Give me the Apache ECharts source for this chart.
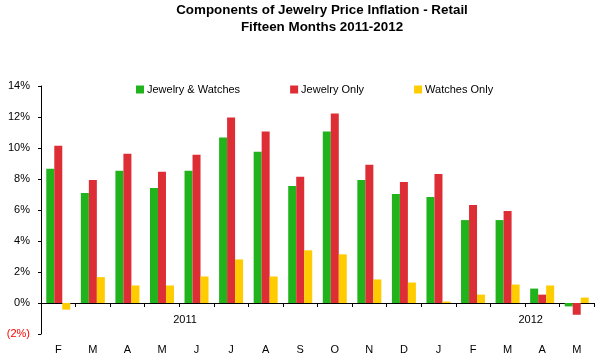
<!DOCTYPE html>
<html><head><meta charset="utf-8">
<script src="https://cdn.jsdelivr.net/npm/echarts@6/dist/echarts.min.js"></script>
<style>html,body{margin:0;padding:0;background:#fff}#c{width:599px;height:358px}</style>
</head><body><div id="c"></div>
<script>
const months = ['F','M','A','M','J','J','A','S','O','N','D','J','F','M','A','M'];
const jewelryWatches = [8.66, 7.10, 8.53, 7.42, 8.53, 10.67, 9.76, 7.55, 11.06, 7.94, 7.03, 6.84, 5.35, 5.35, 0.93, -0.22];
const jewelryOnly    = [10.15, 7.94, 9.63, 8.46, 9.57, 11.97, 11.06, 8.14, 12.23, 8.92, 7.81, 8.33, 6.32, 5.93, 0.54, -0.76];
const watchesOnly    = [-0.43, 1.67, 1.13, 1.13, 1.71, 2.81, 1.71, 3.40, 3.14, 1.52, 1.32, 0.09, 0.54, 1.19, 1.13, 0.35];
const yearLabels = {12: '2011', 42: '2012'};
const yearSlots = Array.from({length: months.length * 3}, (_, i) => yearLabels[i] || '');
const font = 'Arial, "Liberation Sans", sans-serif';

const chart = echarts.init(document.getElementById('c'), null, {renderer: 'canvas'});
chart.setOption({
  animation: false,
  backgroundColor: '#fff',
  title: {
    text: 'Components of Jewelry Price Inflation - Retail\nFifteen Months 2011-2012',
    left: 317, top: -3, textAlign: 'center',
    textStyle: {fontFamily: font, fontSize: 13.4, fontWeight: 'bold', color: '#000', lineHeight: 17}
  },
  legend: {
    left: 131, top: 79, itemWidth: 8, itemHeight: 8, itemGap: 50, icon: 'rect',
    textStyle: {fontFamily: font, fontSize: 11, color: '#000', padding: [0,0,0,-2]},
    data: ['Jewelry & Watches', 'Jewelry Only', 'Watches Only']
  },
  grid: {left: 41, right: 5, top: 86, bottom: 24, containLabel: false},
  xAxis: [
    {
      type: 'category', data: months, position: 'bottom',
      axisLine: {show: false}, axisTick: {show: false},
      axisLabel: {interval: 0, margin: 10, fontFamily: font, fontSize: 11, color: '#000'}
    },
    {
      type: 'category', data: yearSlots, position: 'bottom', offset: -31, boundaryGap: true,
      axisLine: {show: true, onZero: false, lineStyle: {color: '#000', width: 1}},
      axisTick: {show: true, inside: false, length: 4, interval: (i) => i % 3 === 0, lineStyle: {color: '#000'}},
      axisLabel: {interval: 0, margin: 11, fontFamily: font, fontSize: 11, color: '#000'}
    }
  ],
  yAxis: {
    type: 'value', min: -2, max: 14, interval: 2,
    splitLine: {show: false},
    axisLine: {show: true, lineStyle: {color: '#000'}},
    axisTick: {show: true, length: 3, lineStyle: {color: '#000'}},
    axisLabel: {
      margin: 11, fontFamily: font, fontSize: 11,
      formatter: (v) => v < 0 ? '(' + (-v) + '%)' : v + '%',
      color: (v) => Number(v) < 0 ? '#ff0000' : '#000'
    }
  },
  series: [
    {name: 'Jewelry & Watches', type: 'bar', xAxisIndex: 0, data: jewelryWatches, barWidth: 8, barGap: '0%', itemStyle: {color: '#21B31B'}},
    {name: 'Jewelry Only', type: 'bar', xAxisIndex: 0, data: jewelryOnly, barWidth: 8, barGap: '0%', itemStyle: {color: '#DE2E35'}},
    {name: 'Watches Only', type: 'bar', xAxisIndex: 0, data: watchesOnly, barWidth: 8, barGap: '0%', itemStyle: {color: '#FFCC00'}}
  ]
});
</script></body></html>
